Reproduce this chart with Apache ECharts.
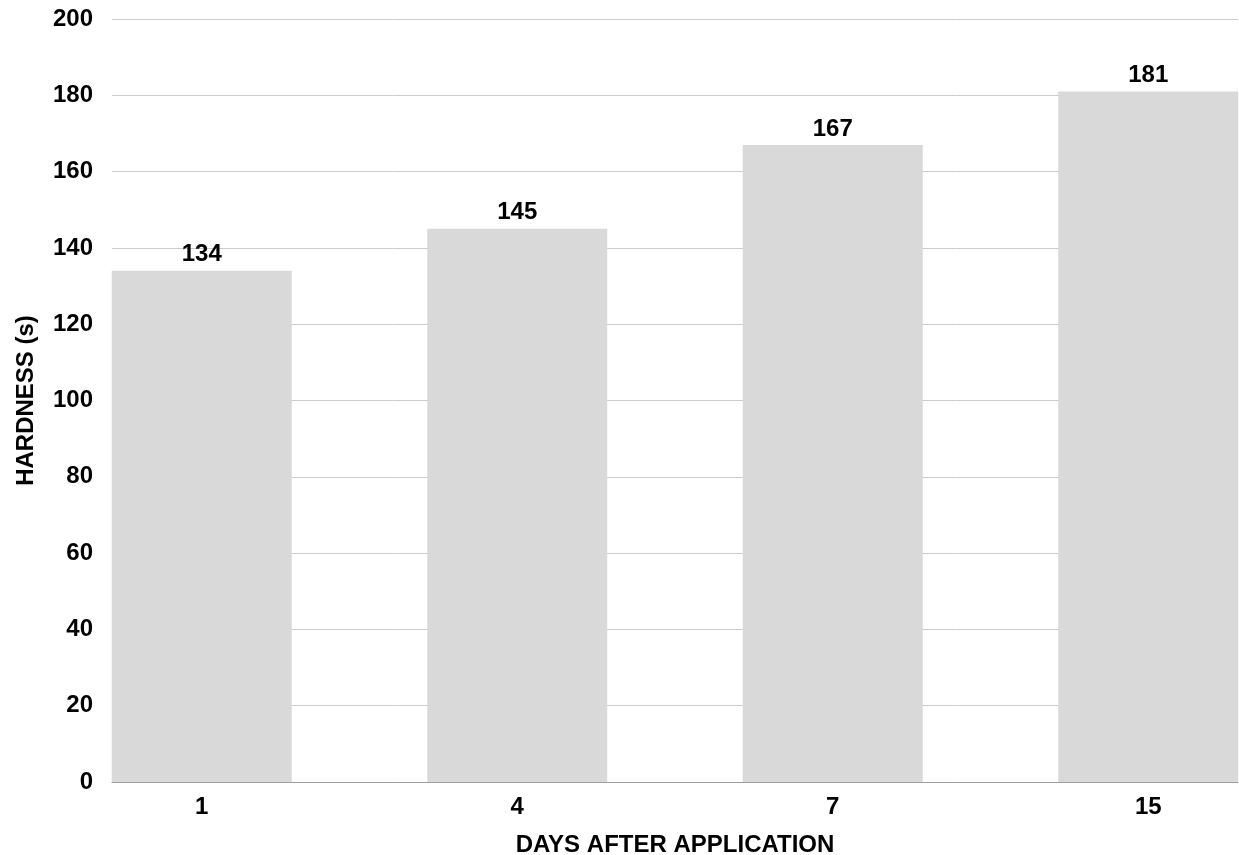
<!DOCTYPE html>
<html>
<head>
<meta charset="utf-8">
<script src="https://cdn.jsdelivr.net/npm/echarts@6/dist/echarts.min.js"></script>
<style>
html,body{margin:0;padding:0;background:#fff;}
#chart{width:1239px;height:855px;}
</style>
</head>
<body>
<div id="chart"></div>
<script>
const categories = ['1', '4', '7', '15'];
const hardness = [134, 145, 167, 181];
const xTitle = 'DAYS AFTER APPLICATION';
const yTitle = 'HARDNESS (s)';

const FONT = '"Liberation Sans", Arial, sans-serif';
const chart = echarts.init(document.getElementById('chart'), null, {renderer: 'canvas'});
chart.setOption({
  animation: false,
  backgroundColor: '#ffffff',
  textStyle: {fontFamily: FONT},
  grid: [
    {left: 112, right: 1, top: 19, bottom: 73, containLabel: false, outerBoundsMode: 'none'},
    {left: 44, right: -67, top: 19, bottom: 73, containLabel: false, outerBoundsMode: 'none'}
  ],
  xAxis: [
    {
      gridIndex: 0, type: 'value', min: 0, max: 1,
      axisLine: {show: true, lineStyle: {color: '#9e9e9e', width: 1}},
      axisTick: {show: false}, axisLabel: {show: false}, splitLine: {show: false},
      name: xTitle, nameLocation: 'middle', nameGap: 51,
      nameTextStyle: {fontSize: 24, fontWeight: 'bold', color: '#000', fontFamily: FONT}
    },
    {
      gridIndex: 1, type: 'category', data: categories,
      axisLine: {show: false}, axisTick: {show: false}, splitLine: {show: false},
      axisLabel: {fontSize: 24, fontWeight: 'bold', color: '#000', margin: 13, fontFamily: FONT}
    }
  ],
  yAxis: [
    {
      gridIndex: 0, type: 'value', min: 0, max: 200, interval: 20,
      axisLine: {show: false}, axisTick: {show: false},
      axisLabel: {fontSize: 24, fontWeight: 'bold', color: '#000', margin: 19, fontFamily: FONT},
      splitLine: {show: true, lineStyle: {color: '#cccccc', width: 1}},
      name: yTitle, nameLocation: 'middle', nameGap: 74,
      nameTextStyle: {fontSize: 24, fontWeight: 'bold', color: '#000', fontFamily: FONT}
    },
    {
      gridIndex: 1, type: 'value', min: 0, max: 200, interval: 20, show: false,
      splitLine: {show: false}
    }
  ],
  series: [{
    type: 'bar',
    xAxisIndex: 1, yAxisIndex: 1,
    data: hardness,
    barWidth: 180,
    itemStyle: {color: '#d9d9d9'},
    label: {
      show: true, position: 'top', distance: 4,
      fontSize: 24, fontWeight: 'bold', color: '#000', fontFamily: FONT
    }
  }]
});
</script>
</body>
</html>
